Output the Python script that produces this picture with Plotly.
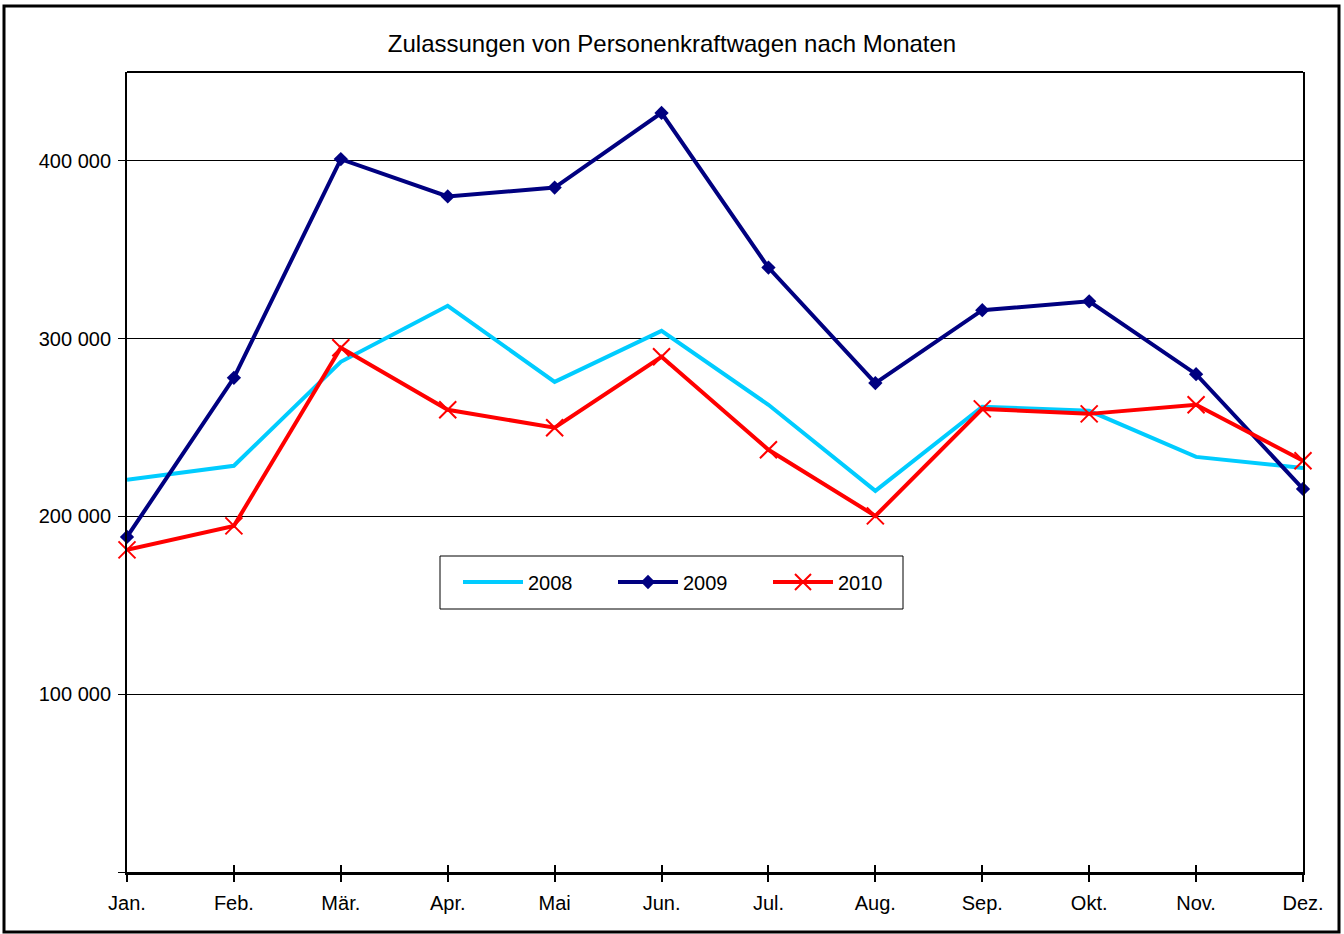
import plotly.graph_objects as go

# Monthly passenger car registrations
months = ["Jan.", "Feb.", "Mär.", "Apr.", "Mai", "Jun.", "Jul.", "Aug.", "Sep.", "Okt.", "Nov.", "Dez."]
reg_2008 = [220600, 228500, 287000, 318500, 275700, 304400, 262800, 214400, 261700, 259400, 233500, 227300]
reg_2009 = [188500, 278000, 401000, 380000, 385000, 427000, 340000, 275000, 316000, 321000, 280000, 215500]
reg_2010 = [181200, 194700, 294900, 260000, 249900, 289800, 237500, 200300, 260500, 257700, 262800, 231300]

y_tickvals = [0, 100000, 200000, 300000, 400000]
y_ticktext = ["", "100 000", "200 000", "300 000", "400 000"]

FONT = "Liberation Sans, Arial, sans-serif"

fig = go.Figure()
fig.add_trace(go.Scatter(
    x=months, y=reg_2008, name="2008", mode="lines",
    line=dict(color="#00CCFF", width=4), cliponaxis=False,
))
fig.add_trace(go.Scatter(
    x=months, y=reg_2009, name="2009", mode="lines+markers",
    line=dict(color="#000080", width=4),
    marker=dict(symbol="diamond", size=11, color="#000080"),
    cliponaxis=False,
))
fig.add_trace(go.Scatter(
    x=months, y=reg_2010, name="2010", mode="lines+markers",
    line=dict(color="#FF0000", width=4),
    marker=dict(symbol="x-thin", size=17, color="#FF0000",
                line=dict(color="#FF0000", width=2)),
    cliponaxis=False,
))
# invisible helper trace so the overlay axis (inner tick halves) is rendered
fig.add_trace(go.Scatter(
    x=months, y=reg_2008, xaxis="x2", mode="lines",
    line=dict(width=0, color="rgba(0,0,0,0)"), opacity=0,
    showlegend=False, hoverinfo="skip",
))

W, H = 1344, 934
L, R, T, B = 127, 1303, 72, 872
pw, ph = R - L, B - T


def px_x(x):
    return (x - L) / pw


def px_y(y):
    return (B - y) / ph


# outer chart frame
fig.add_shape(type="rect", xref="paper", yref="paper",
              x0=px_x(4), x1=px_x(1339), y0=px_y(932), y1=px_y(6),
              line=dict(color="black", width=3), fillcolor="rgba(0,0,0,0)", layer="below")
# top edge of the plot area
fig.add_shape(type="line", xref="paper", yref="paper",
              x0=0, x1=1, y0=1, y1=1, line=dict(color="black", width=2))
# legend frame
fig.add_shape(type="rect", xref="paper", yref="paper",
              x0=px_x(440), x1=px_x(903), y0=px_y(609), y1=px_y(556),
              line=dict(color="black", width=1), fillcolor="white", layer="below")

fig.update_layout(
    width=W, height=H,
    margin=dict(l=L, r=W - R, t=T, b=H - B),
    paper_bgcolor="white", plot_bgcolor="rgba(0,0,0,0)",
    font=dict(family=FONT, size=20, color="black"),
    title=dict(text="Zulassungen von Personenkraftwagen nach Monaten",
               x=0.5, xanchor="center", y=1 - 44 / H, yanchor="middle",
               font=dict(family=FONT, size=24, color="black")),
    showlegend=True,
    legend=dict(
        orientation="h", x=px_x(458), y=px_y(582), xanchor="left", yanchor="middle",
        borderwidth=0, bgcolor="rgba(0,0,0,0)",
        font=dict(family=FONT, size=20, color="black"),
        entrywidth=80, entrywidthmode="pixels",
        itemwidth=60,
    ),
    xaxis=dict(
        type="category", range=[0, 11],
        showline=True, linecolor="black", linewidth=3, mirror=False,
        ticks="outside", ticklen=7, tickwidth=2, tickcolor="black",
        ticklabelstandoff=4,
        showgrid=False, zeroline=False,
        tickfont=dict(family=FONT, size=20, color="black"),
    ),
    # inner half of the crossing x ticks
    xaxis2=dict(
        type="category", overlaying="x", anchor="y", side="bottom", range=[0, 11],
        ticks="inside", ticklen=7, tickwidth=2, tickcolor="black",
        showticklabels=False, showline=False, showgrid=False, zeroline=False,
    ),
    yaxis=dict(
        range=[0, 450000],
        tickvals=y_tickvals, ticktext=y_ticktext,
        showline=True, linecolor="black", linewidth=2, mirror=True,
        ticks="outside", ticklen=7, tickwidth=1, tickcolor="black",
        ticklabelstandoff=3,
        showgrid=True, gridcolor="black", gridwidth=1,
        zeroline=False,
        tickfont=dict(family=FONT, size=20, color="black"),
    ),
)

fig.write_html("out.html")
